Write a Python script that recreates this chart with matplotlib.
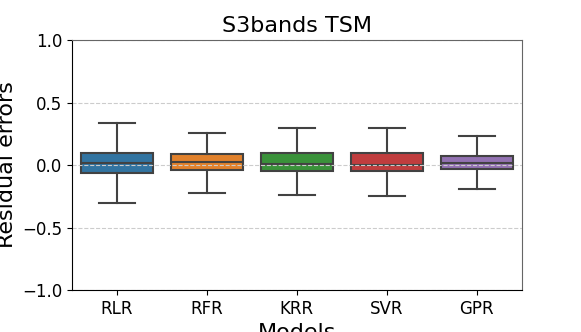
import matplotlib
matplotlib.use('Agg')
import matplotlib.pyplot as plt

# Datos (cuartiles y bigotes de los residuos)
modelos = ['RLR', 'RFR', 'KRR', 'SVR', 'GPR']
bigote_inf = [-0.307, -0.220, -0.243, -0.248, -0.195]
q1 = [-0.067, -0.040, -0.048, -0.045, -0.035]
mediana = [0.018, 0.027, 0.010, 0.003, 0.013]
q3 = [0.095, 0.085, 0.099, 0.099, 0.075]
bigote_sup = [0.334, 0.260, 0.293, 0.293, 0.235]

colores = ['#3274A1', '#E1812C', '#3A923A', '#C03D3E', '#9372B2']
gris = '#424242'

stats = []
for i in range(len(modelos)):
    stats.append({'label': modelos[i], 'whislo': bigote_inf[i], 'q1': q1[i],
                  'med': mediana[i], 'q3': q3[i], 'whishi': bigote_sup[i],
                  'fliers': []})

fig = plt.figure(figsize=(5.81, 3.32), dpi=100)
ax = fig.add_axes([0.124, 0.1265, 0.774, 0.753])

bp = ax.bxp(stats, positions=range(len(modelos)), widths=0.8, patch_artist=True,
            showfliers=False,
            boxprops=dict(edgecolor=gris, linewidth=1.5),
            whiskerprops=dict(color=gris, linewidth=1.5),
            capprops=dict(color=gris, linewidth=1.5),
            medianprops=dict(color=gris, linewidth=1.5))
for caja, c in zip(bp['boxes'], colores):
    caja.set_facecolor(c)
for cap in bp['caps']:
    x = cap.get_xdata()
    m = (x[0] + x[1]) / 2
    cap.set_xdata([m - 0.2, m + 0.2])

ax.set_xlim(-0.5, len(modelos) - 0.5)
ax.set_ylim(-1, 1)
ax.set_yticks([-1, -0.5, 0, 0.5, 1])
ax.set_xticks(range(len(modelos)))
ax.set_xticklabels(modelos)
ax.tick_params(labelsize=12)
ax.yaxis.grid(True, linestyle='--', color='#cccccc', linewidth=0.8)
ax.set_axisbelow(False)

ax.set_title('S3bands TSM', fontsize=16)
ax.set_xlabel('Models', fontsize=16)
ax.set_ylabel('Residual errors', fontsize=16)

for s in ['top', 'right']:
    ax.spines[s].set_color('#666666')
for s in ax.spines.values():
    s.set_zorder(10)

plt.savefig('out.png', dpi=100)
